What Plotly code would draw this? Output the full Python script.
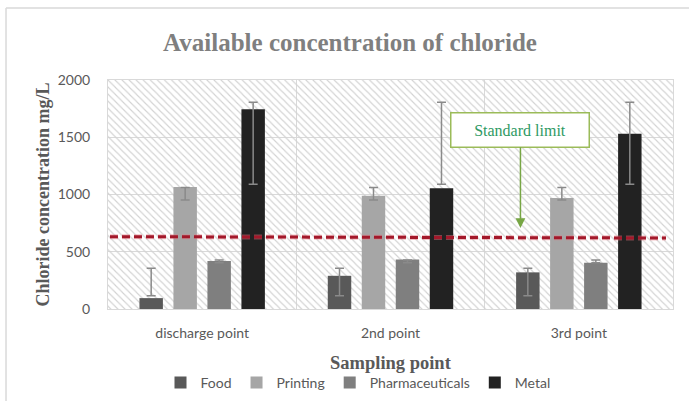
import plotly.graph_objects as go

# Sampling locations along the discharge route
categories = ["discharge point", "2nd point", "3rd point"]

# Mean chloride concentration (mg/L) per industry
food = [95, 290, 320]
printing = [1065, 990, 970]
pharmaceuticals = [420, 432, 405]
metal = [1745, 1055, 1530]

# Error-bar extents (low, high) per industry, mg/L
food_range = (116, 355)
printing_range = (952, 1062)
pharmaceuticals_range = (405, 428)
metal_range = (1089, 1805)

# Regulatory limit line (drawn slightly off-level, from left to right)
limit_start = 632
limit_end = 620
limit_label = "Standard limit"

series = [
    ("Food", food, food_range, "#595959"),
    ("Printing", printing, printing_range, "#a6a6a6"),
    ("Pharmaceuticals", pharmaceuticals, pharmaceuticals_range, "#7f7f7f"),
    ("Metal", metal, metal_range, "#222222"),
]

serif = "Liberation Serif, serif"
sans = "Lato"
text_grey = "#595959"
grid_grey = "#d9d9d9"

fig = go.Figure()

# Hatched plot background (sits on the base axes, beneath the bars)
fig.add_trace(go.Bar(
    x=[0.5], y=[2000], width=[1],
    marker=dict(
        color="rgba(0,0,0,0)",
        line=dict(width=0),
        pattern=dict(shape="\\", fgcolor="#d2d2d2", bgcolor="rgba(0,0,0,0)",
                     size=5, solidity=0.22, fillmode="replace"),
    ),
    hoverinfo="skip", showlegend=False, xaxis="x", yaxis="y",
))

for name, vals, (lo, hi), color in series:
    fig.add_trace(go.Bar(
        name=name, x=categories, y=vals,
        marker=dict(color=color, line=dict(width=0)),
        error_y=dict(
            type="data", symmetric=False,
            array=[hi - v for v in vals],
            arrayminus=[v - lo for v in vals],
            color="#8a8a8a", thickness=1.5, width=4.5,
        ),
        xaxis="x2", yaxis="y",
    ))

fig.update_layout(
    width=689, height=401,
    margin=dict(l=108, r=16, t=80, b=92, autoexpand=False),
    paper_bgcolor="white", plot_bgcolor="white",
    barmode="group", bargap=0.278, bargroupgap=0.31,
    title=dict(
        text="<b>Available concentration of chloride</b>",
        font=dict(family=serif, size=25, color="#7f7f7f"),
        x=0.508, xref="container", xanchor="center",
        y=1 - 42 / 401, yref="container", yanchor="middle",
    ),
    xaxis=dict(visible=False, range=[0, 1], fixedrange=True),
    xaxis2=dict(
        overlaying="x", anchor="y", side="bottom",
        type="category", categoryorder="array", categoryarray=categories,
        range=[-0.5, 2.5], automargin=False,
        tickson="boundaries", ticks="", showgrid=True, gridcolor=grid_grey, gridwidth=1,
        showline=True, linecolor=grid_grey, linewidth=1, mirror=True,
        tickfont=dict(family=sans, size=14, color=text_grey),
        ticklabelstandoff=11,
    ),
    yaxis=dict(
        range=[0, 2000], dtick=500, showgrid=True, gridcolor=grid_grey, gridwidth=1,
        zeroline=False, ticks="", automargin=False,
        showline=True, linecolor=grid_grey, linewidth=1, mirror=True,
        tickfont=dict(family=sans, size=14, color=text_grey),
        ticklabelstandoff=14,
        title=dict(text="<b>Chloride concentration mg/L</b>", standoff=3,
                   font=dict(family=serif, size=18, color=text_grey)),
    ),
    legend=dict(
        orientation="h", xref="container", x=358 / 689, xanchor="center",
        yref="container", y=1 - 383 / 401, yanchor="middle",
        font=dict(family=sans, size=14, color=text_grey),
        itemwidth=30, traceorder="normal", bgcolor="rgba(0,0,0,0)",
    ),
    showlegend=True,
)

# Horizontal axis title
fig.add_annotation(
    text="<b>Sampling point</b>", xref="paper", yref="paper",
    x=0.5, y=-0.236, xanchor="center", yanchor="middle", showarrow=False,
    font=dict(family=serif, size=18.5, color=text_grey),
)

# Chart frame (top and left edges)
frame = dict(color="#d9d9d9", width=1.5)
fig.add_shape(type="line", xref="paper", yref="paper",
              x0=-0.1805, x1=1.03, y0=1.3144, y1=1.3144, line=frame)
fig.add_shape(type="line", xref="paper", yref="paper",
              x0=-0.1805, x1=-0.1805, y0=1.3144, y1=-0.41, line=frame)

# Standard limit line
fig.add_shape(type="line", xref="paper", yref="y",
              x0=0.0035, x1=0.9876, y0=limit_start, y1=limit_end,
              line=dict(color="rgba(230,120,130,0.45)", width=5, dash="8px,4px"))
fig.add_shape(type="line", xref="paper", yref="y",
              x0=0.0035, x1=0.9876, y0=limit_start, y1=limit_end,
              line=dict(color="#a3182a", width=3, dash="8px,4px"))

# Callout pointing at the limit
fig.add_annotation(
    x=1.69, y=707, xref="x2", yref="y",
    text=limit_label, showarrow=True, ax=0, ay=-98,
    arrowhead=2, arrowsize=1.3, arrowwidth=1.5, arrowcolor="#77a645",
    font=dict(family="Liberation Serif", size=16, color="#2f9a64"),
    bgcolor="white", bordercolor="#9bbb59", borderwidth=1.5, borderpad=4,
    width=129, height=25,
)

fig.write_html("out.html")
